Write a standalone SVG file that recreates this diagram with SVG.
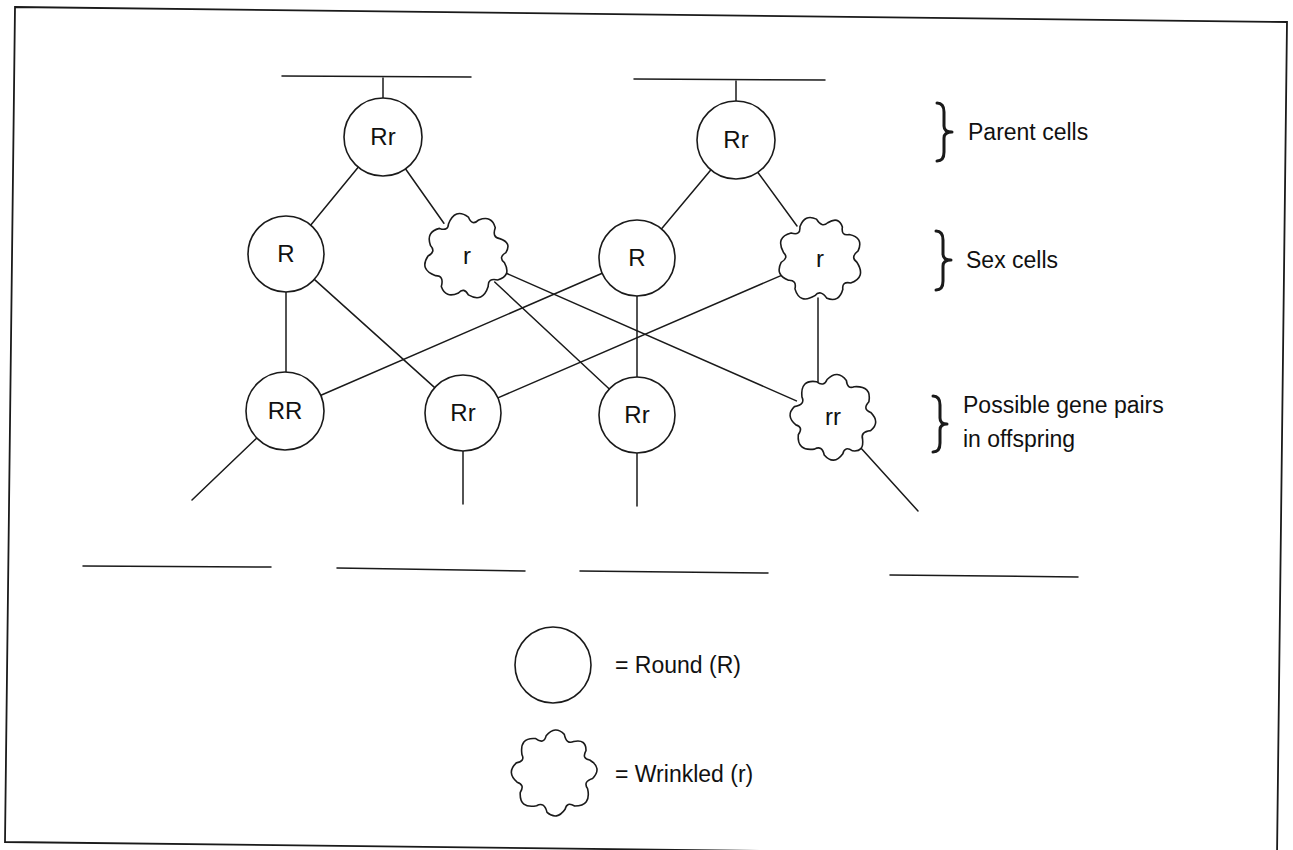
<svg xmlns="http://www.w3.org/2000/svg" xmlns:xlink="http://www.w3.org/1999/xlink" width="1293" height="850" viewBox="0 0 1293 850">
<style>
.ln{stroke:#1a1a1a;stroke-width:1.5;fill:none;stroke-linecap:round}
.nd{fill:#fff;stroke:#1a1a1a;stroke-width:1.6;stroke-linejoin:round}
.lb{font-family:"Liberation Sans",Arial,sans-serif;font-size:24px;fill:#111;text-anchor:middle}
.tx{font-family:"Liberation Sans",Arial,sans-serif;font-size:23px;fill:#111}
.br{fill:none;stroke:#1a1a1a;stroke-width:3;stroke-linecap:round;stroke-linejoin:round}
</style>
<defs>
<path id="wr" d="M38,0 Q47.5,11.9 34.4,18.3 Q24.1,17.8 26.2,26.2 Q23.9,43.9 8.1,38.1 Q2.4,30.9 -2,37.9 Q-13.6,46 -20,34.6 Q-18.9,23.3 -27.5,24.8 Q-44.9,21.9 -38.4,6.8 Q-31,1.1 -37.8,-4 Q-45,-16.8 -31.9,-22.4 Q-22.9,-20.9 -23.8,-28.3 Q-20.3,-45.7 -5.4,-38.6 Q0,-30 5.3,-37.6 Q17.6,-44.7 22.9,-32.8 Q21.3,-22.5 29.2,-22.8 Q42.1,-21 37.7,-10.1 Q30.7,-4 38,0 Z"/>
</defs>
<rect width="1293" height="850" fill="#fff"/>
<polygon points="15,7 1287,22 1277,857 5,842" fill="none" stroke="#1a1a1a" stroke-width="1.8"/>

<g id="connectors">
<line class="ln" x1="282" y1="76" x2="471" y2="77"/>
<line class="ln" x1="634" y1="79" x2="825" y2="80"/>
<line class="ln" x1="383" y1="78" x2="383" y2="98"/>
<line class="ln" x1="736" y1="81" x2="736" y2="101"/>
<line class="ln" x1="358.8" y1="166.5" x2="311.2" y2="224.5"/>
<line class="ln" x1="404.9" y1="168" x2="443.9" y2="223.3"/>
<line class="ln" x1="711.6" y1="169.1" x2="661.4" y2="228.9"/>
<line class="ln" x1="757.2" y1="171.5" x2="797" y2="226"/>
<line class="ln" x1="286" y1="292" x2="286" y2="373"/>
<line class="ln" x1="314.3" y1="279.4" x2="434.7" y2="387.6"/>
<line class="ln" x1="494.7" y1="282" x2="609.3" y2="389"/>
<line class="ln" x1="501.8" y1="271.3" x2="796.4" y2="400.9"/>
<line class="ln" x1="602.2" y1="273.2" x2="319.8" y2="395.8"/>
<line class="ln" x1="637" y1="296" x2="637" y2="377"/>
<line class="ln" x1="782.1" y1="275.1" x2="497.9" y2="397.9"/>
<line class="ln" x1="818" y1="298" x2="818" y2="382"/>
<line class="ln" x1="257.6" y1="437.3" x2="192" y2="500"/>
<line class="ln" x1="463" y1="451" x2="463" y2="504"/>
<line class="ln" x1="637" y1="453" x2="637" y2="506"/>
<line class="ln" x1="860" y1="447" x2="918" y2="511"/>
<line class="ln" x1="83" y1="566" x2="271" y2="567"/>
<line class="ln" x1="337" y1="568" x2="525" y2="571"/>
<line class="ln" x1="580" y1="571" x2="768" y2="573"/>
<line class="ln" x1="890" y1="575" x2="1078" y2="577"/>
</g>

<g id="parent-left"><circle class="nd" cx="383" cy="137" r="39"/><text class="lb" x="383" y="145">Rr</text></g>
<g id="parent-right"><circle class="nd" cx="736" cy="140" r="39"/><text class="lb" x="736" y="148">Rr</text></g>

<g id="sex-R1"><circle class="nd" cx="286" cy="254" r="38"/><text class="lb" x="286" y="262">R</text></g>
<g id="sex-r1"><use xlink:href="#wr" class="nd" transform="translate(467,256) rotate(10)"/><text class="lb" x="467" y="264">r</text></g>
<g id="sex-R2"><circle class="nd" cx="637" cy="258" r="38"/><text class="lb" x="637" y="266">R</text></g>
<g id="sex-r2"><use xlink:href="#wr" class="nd" transform="translate(820,259) rotate(-40)"/><text class="lb" x="820" y="267">r</text></g>

<g id="off-RR"><circle class="nd" cx="285" cy="411" r="39"/><text class="lb" x="285" y="419">RR</text></g>
<g id="off-Rr1"><circle class="nd" cx="463" cy="413" r="38"/><text class="lb" x="463" y="421">Rr</text></g>
<g id="off-Rr2"><circle class="nd" cx="637" cy="415" r="38"/><text class="lb" x="637" y="423">Rr</text></g>
<g id="off-rr"><use xlink:href="#wr" class="nd" transform="translate(833,417) rotate(75)"/><text class="lb" x="833" y="425">rr</text></g>

<g id="label-parent"><path class="br" d="M937,103 Q944,103 944,112 L944,126 Q944,132 952,132 Q944,132 944,138 L944,152 Q944,161 937,161"/><text class="tx" x="968" y="140">Parent cells</text></g>
<g id="label-sex"><path class="br" d="M936,231 Q943,231 943,240 L943,254 Q943,260 951,260 Q943,260 943,266 L943,281 Q943,290 936,290"/><text class="tx" x="966" y="268">Sex cells</text></g>
<g id="label-offspring"><path class="br" d="M933,396 Q940,396 940,405 L940,418 Q940,424 947,424 Q940,424 940,430 L940,443 Q940,452 933,452"/><text class="tx" x="963" y="413">Possible gene pairs</text><text class="tx" x="963" y="447">in offspring</text></g>

<g id="legend-round"><circle class="nd" cx="553" cy="665" r="38"/><text class="tx" x="615" y="673">= Round (R)</text></g>
<g id="legend-wrinkled"><use xlink:href="#wr" class="nd" transform="translate(554,773) rotate(-20)"/><text class="tx" x="615" y="782">= Wrinkled (r)</text></g>
</svg>
